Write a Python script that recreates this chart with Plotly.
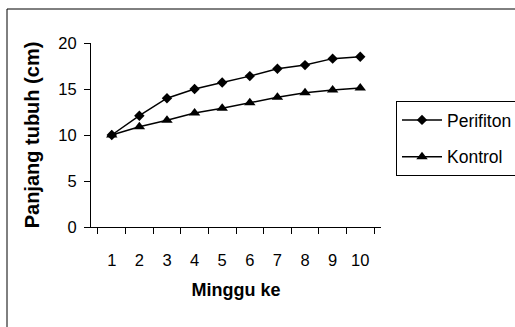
import plotly.graph_objects as go

# Weekly body length measurements (cm)
weeks = ["1", "2", "3", "4", "5", "6", "7", "8", "9", "10"]
perifiton = [10.0, 12.1, 14.0, 15.0, 15.7, 16.4, 17.2, 17.6, 18.3, 18.5]
kontrol = [10.0, 10.9, 11.6, 12.4, 12.9, 13.5, 14.1, 14.6, 14.9, 15.1]
y_ticks = [0, 5, 10, 15, 20]

W, H = 515, 327
ML, MR, MT, MB = 91, 134, 43, 100
FONT = "Liberation Sans, Arial, sans-serif"

fig = go.Figure()
fig.add_trace(go.Scatter(
    x=weeks, y=perifiton, name="Perifiton", mode="lines+markers",
    legendgroup="a",
    line=dict(color="black", width=1.5),
    marker=dict(symbol="diamond", size=8, color="black"),
))
fig.add_trace(go.Scatter(
    x=weeks, y=kontrol, name="Kontrol", mode="lines+markers",
    legendgroup="b",
    line=dict(color="black", width=1.5),
    marker=dict(symbol="triangle-up", size=10, color="black"),
))

# outer chart frame (extends past the right and bottom edges of the page)
pw, ph = W - ML - MR, H - MT - MB
def px_x(v):
    return (v - ML) / pw
def px_y(v):
    return (H - MB - v) / ph

fig.add_shape(type="rect", xref="paper", yref="paper",
              x0=px_x(7), x1=px_x(W + 10), y0=px_y(H + 10), y1=px_y(9),
              line=dict(color="black", width=1), layer="below")

fig.update_layout(
    width=W, height=H,
    margin=dict(l=ML, r=MR, t=MT, b=MB, pad=0),
    paper_bgcolor="white", plot_bgcolor="white",
    font=dict(family=FONT, size=16.5, color="black"),
    showlegend=True,
    legend=dict(
        xref="container", yref="container",
        x=396 / W, y=1 - 101 / H, xanchor="left", yanchor="top",
        bordercolor="black", borderwidth=1, bgcolor="white",
        font=dict(size=17.5), tracegroupgap=11, itemwidth=40,
    ),
    xaxis=dict(
        type="category", showgrid=False, zeroline=False,
        showline=True, linecolor="black", linewidth=1,
        ticks="outside", ticklen=6, tickcolor="black", tickson="boundaries",
        ticklabelstandoff=18,
        title=dict(text="<b>Minggu ke</b>", font=dict(size=18), standoff=15),
    ),
    yaxis=dict(
        range=[0, 20], tickvals=y_ticks, showgrid=False, zeroline=False,
        showline=True, linecolor="black", linewidth=1,
        ticks="outside", ticklen=6, tickcolor="black",
        ticklabelstandoff=4,
        title=dict(text="<b>Panjang tubuh (cm)</b>", font=dict(size=20), standoff=13),
    ),
)

fig.write_html("out.html")
